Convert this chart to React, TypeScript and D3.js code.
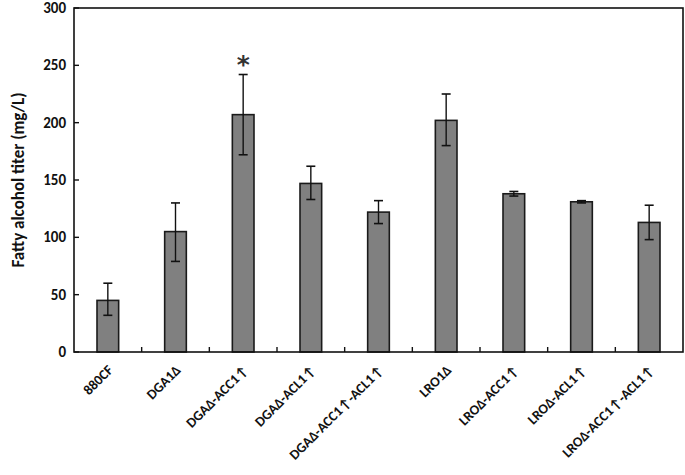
import { useEffect, useRef } from 'react';
import * as d3 from 'd3';

const categories = [
  '880CF',
  'DGA1Δ',
  'DGAΔ-ACC1↑',
  'DGAΔ-ACL1↑',
  'DGAΔ-ACC1↑-ACL1↑',
  'LRO1Δ',
  'LROΔ-ACC1↑',
  'LROΔ-ACL1↑',
  'LROΔ-ACC1↑-ACL1↑',
];
const titers = [45, 105, 207, 147, 122, 202, 138, 131, 113];
const errLow = [32, 79, 172, 133, 112, 180, 136, 130, 98];
const errHigh = [60, 130, 242, 162, 132, 225, 140, 132, 128];
const significant = [false, false, true, false, false, false, false, false, false];
const yTicks = [0, 50, 100, 150, 200, 250, 300];

const FONT = 'Carlito, "Open Sans", "Noto Sans", sans-serif';

const App = () => {
  const svgRef = useRef<SVGSVGElement>(null);

  useEffect(() => {
    const svg = d3.select(svgRef.current);
    svg.selectAll('*').remove();

    const width = 685;
    const height = 475;
    const margin = { top: 8, right: 2, bottom: 123, left: 74 };
    const innerWidth = width - margin.left - margin.right;
    const innerHeight = height - margin.top - margin.bottom;

    const data = categories.map((c, i) => ({
      label: c,
      value: titers[i],
      lo: errLow[i],
      hi: errHigh[i],
      star: significant[i],
    }));

    const x = d3.scaleBand().domain(categories).range([0, innerWidth]);
    const y = d3.scaleLinear().domain([0, 300]).range([innerHeight, 0]);
    const barW = x.bandwidth() * 0.32;

    const g = svg.append('g').attr('transform', `translate(${margin.left},${margin.top})`);

    // bars
    g.selectAll('rect.bar')
      .data(data)
      .enter()
      .append('rect')
      .attr('class', 'bar')
      .attr('x', d => x(d.label)! + x.bandwidth() / 2 - barW / 2)
      .attr('y', d => y(d.value))
      .attr('width', barW)
      .attr('height', d => innerHeight - y(d.value))
      .attr('fill', '#808080')
      .attr('stroke', '#1a1a1a')
      .attr('stroke-width', 1.6);

    // error bars
    const eb = g.selectAll('g.err').data(data).enter().append('g').attr('class', 'err')
      .attr('transform', d => `translate(${x(d.label)! + x.bandwidth() / 2},0)`);
    eb.append('line')
      .attr('y1', d => y(d.lo)).attr('y2', d => y(d.hi))
      .attr('stroke', '#111').attr('stroke-width', 1.4);
    eb.append('line')
      .attr('x1', -4.5).attr('x2', 4.5)
      .attr('y1', d => y(d.hi)).attr('y2', d => y(d.hi))
      .attr('stroke', '#111').attr('stroke-width', 1.6);
    eb.append('line')
      .attr('x1', -4.5).attr('x2', 4.5)
      .attr('y1', d => y(d.lo)).attr('y2', d => y(d.lo))
      .attr('stroke', '#111').attr('stroke-width', 1.6);

    // significance star
    g.selectAll('text.star')
      .data(data.filter(d => d.star))
      .enter()
      .append('text')
      .attr('class', 'star')
      .attr('x', d => x(d.label)! + x.bandwidth() / 2)
      .attr('y', d => y(d.hi) - 2)
      .attr('text-anchor', 'middle')
      .attr('font-family', '"DejaVu Sans", sans-serif')
      .attr('font-weight', 'bold')
      .attr('font-size', 25)
      .attr('fill', '#333')
      .text('*');

    // frame
    g.append('rect')
      .attr('width', innerWidth)
      .attr('height', innerHeight)
      .attr('fill', 'none')
      .attr('stroke', '#111')
      .attr('stroke-width', 1.6);

    // y ticks (inward)
    g.selectAll('line.ytick')
      .data(yTicks)
      .enter()
      .append('line')
      .attr('x1', 0).attr('x2', 5)
      .attr('y1', d => y(d)).attr('y2', d => y(d))
      .attr('stroke', '#111').attr('stroke-width', 1.4);
    g.selectAll('text.ylab')
      .data(yTicks)
      .enter()
      .append('text')
      .attr('x', -8)
      .attr('y', d => y(d))
      .attr('dy', '0.33em')
      .attr('text-anchor', 'end')
      .attr('font-family', FONT)
      .attr('font-weight', 'bold')
      .attr('font-size', 15)
      .attr('fill', '#111')
      .text(d => d);

    // x ticks at band boundaries (inward)
    g.selectAll('line.xtick')
      .data(categories.slice(1))
      .enter()
      .append('line')
      .attr('x1', d => x(d)!).attr('x2', d => x(d)!)
      .attr('y1', innerHeight).attr('y2', innerHeight - 5)
      .attr('stroke', '#111').attr('stroke-width', 1.4);

    // rotated category labels (-45deg)
    g.selectAll('text.xlab')
      .data(categories)
      .enter()
      .append('text')
      .attr('class', 'xlab')
      .attr('transform', d => `translate(${x(d)! + x.bandwidth() / 2 + 6},${innerHeight + 19}) rotate(-45)`)
      .attr('text-anchor', 'end')
      .attr('font-family', FONT)
      .attr('font-weight', 'bold')
      .attr('font-size', 14)
      .attr('fill', '#111')
      .text(d => d);

    // y axis title
    svg.append('text')
      .attr('transform', `translate(18,${margin.top + innerHeight / 2}) rotate(-90)`)
      .attr('text-anchor', 'middle')
      .attr('dy', '0.35em')
      .attr('font-family', FONT)
      .attr('font-weight', 'bold')
      .attr('font-size', 17)
      .attr('fill', '#111')
      .text('Fatty alcohol titer (mg/L)');
  }, []);

  return (
    <div style={{ position: 'absolute', left: 0, top: 0, background: '#fff' }}>
      <svg ref={svgRef} width={685} height={475} style={{ display: 'block' }}></svg>
    </div>
  );
};

export default App;
